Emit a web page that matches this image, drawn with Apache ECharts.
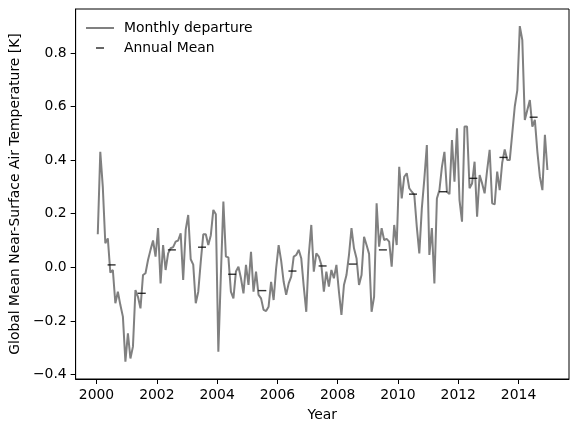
<!DOCTYPE html>
<html><head><meta charset="utf-8">
<script src="https://cdn.jsdelivr.net/npm/echarts@6/dist/echarts.min.js"></script>
<style>html,body{margin:0;padding:0;background:#fff}#c{width:579px;height:432px}</style>
</head><body><div id="c"></div>
<script>
const startYear = 2000;
// Monthly departures [K], one array per year
const m2000 = [0.123, 0.431, 0.30, 0.09, 0.108, -0.02, -0.01, -0.134, -0.091, -0.141, -0.184, -0.352];
const m2001 = [-0.246, -0.34, -0.296, -0.085, -0.11, -0.153, -0.029, -0.022, 0.027, 0.065, 0.10, 0.04];
const m2002 = [0.146, -0.06, 0.083, -0.01, 0.052, 0.071, 0.075, 0.096, 0.10, 0.127, -0.047, 0.14];
const m2003 = [0.195, 0.03, 0.01, -0.134, -0.091, 0.021, 0.123, 0.123, 0.083, 0.12, 0.214, 0.198];
const m2004 = [-0.315, -0.03, 0.245, 0.04, 0.037, -0.091, -0.116, -0.016, 0.002, -0.041, -0.097, 0.009];
const m2005 = [-0.066, 0.058, -0.091, -0.016, -0.103, -0.116, -0.159, -0.163, -0.147, -0.054, -0.122, -0.004];
const m2006 = [0.083, 0.025, -0.054, -0.103, -0.06, -0.035, 0.04, 0.046, 0.065, 0.034, -0.072, -0.166];
const m2007 = [0.046, 0.158, -0.016, 0.052, 0.04, 0.009, -0.091, -0.016, -0.072, -0.01, -0.041, 0.009];
const m2008 = [-0.091, -0.178, -0.066, -0.029, 0.046, 0.146, 0.071, 0.034, -0.066, -0.029, 0.114, 0.083];
const m2009 = [0.05, -0.166, -0.11, 0.239, 0.077, 0.146, 0.102, 0.106, 0.096, 0.002, 0.158, 0.083];
const m2010 = [0.375, 0.257, 0.338, 0.351, 0.295, 0.282, 0.27, 0.151, 0.052, 0.22, 0.33, 0.456];
const m2011 = [0.046, 0.146, -0.06, 0.257, 0.288, 0.375, 0.431, 0.282, 0.273, 0.475, 0.319, 0.519];
const m2012 = [0.251, 0.17, 0.525, 0.525, 0.295, 0.313, 0.394, 0.189, 0.344, 0.313, 0.276, 0.363];
const m2013 = [0.438, 0.239, 0.235, 0.357, 0.288, 0.39, 0.44, 0.40, 0.40, 0.50, 0.60, 0.66];
const m2014 = [0.9, 0.848, 0.55, 0.587, 0.624, 0.525, 0.55, 0.431, 0.338, 0.288, 0.494, 0.363];

const annualYears = [2000, 2001, 2002, 2003, 2004, 2005, 2006, 2007, 2008, 2009, 2010, 2011, 2012, 2013, 2014];
const annualMean = [0.009, -0.097, 0.065, 0.075, -0.026, -0.087, -0.014, 0.005, 0.012, 0.065, 0.273, 0.282, 0.332, 0.41, 0.56];

const xTickValues = [2000, 2002, 2004, 2006, 2008, 2010, 2012, 2014];
const yTickValues = [-0.4, -0.2, 0.0, 0.2, 0.4, 0.6, 0.8];
const seriesNames = ['Monthly departure', 'Annual Mean'];
const axisNames = ['Year', 'Global Mean Near-Surface Air Temperature [K]'];

const monthly = [].concat(m2000, m2001, m2002, m2003, m2004, m2005, m2006, m2007,
  m2008, m2009, m2010, m2011, m2012, m2013, m2014);
const monthlyPoints = monthly.map((v, i) => [startYear + (i + 0.5) / 12, v]);
const annualPoints = annualYears.map((y, i) => [y + 0.5, annualMean[i]]);

const FONT = 'DejaVu Sans';
const FS = 13.9;
const fmtY = v => (v < 0 ? '\u2212' : '') + Math.abs(v).toFixed(1);

const chart = echarts.init(document.getElementById('c'), null, {renderer: 'canvas'});
chart.setOption({
  animation: false,
  backgroundColor: '#fff',
  textStyle: {fontFamily: FONT},
  grid: {left: 73.3, right: 10, top: 9, bottom: 53, show: true, borderColor: '#000', borderWidth: 1, containLabel: false},
  legend: {
    orient: 'vertical', left: 86, top: 21, padding: 0,
    itemWidth: 28, itemHeight: 14, itemGap: 6,
    textStyle: {fontFamily: FONT, fontSize: FS, color: '#000', padding: [0, 0, 0, 5]},
    data: [
      {name: seriesNames[0], icon: 'path://M0,0L0.01,0ZM0,6H28V8H0ZM28,14L27.99,14Z', itemStyle: {color: '#808080'}},
      {name: seriesNames[1], icon: 'path://M0,0L0.01,0ZM10,6.3H18V7.7H10ZM28,14L27.99,14Z', itemStyle: {color: '#000'}}
    ]
  },
  xAxis: {
    type: 'value', min: 1999.307, max: 2015.674,
    name: axisNames[0], nameLocation: 'middle', nameGap: 29,
    nameTextStyle: {fontFamily: FONT, fontSize: FS, color: '#000'},
    axisLine: {show: true, onZero: false, lineStyle: {color: '#000', width: 1}},
    axisTick: {show: true, inside: false, length: 5, customValues: xTickValues, lineStyle: {color: '#000', width: 1}},
    axisLabel: {customValues: xTickValues, margin: 9, fontFamily: FONT, fontSize: FS, color: '#000', formatter: v => String(v)},
    splitLine: {show: false}
  },
  yAxis: {
    type: 'value', min: -0.4168, max: 0.9638,
    name: axisNames[1], nameLocation: 'middle', nameGap: 47,
    nameTextStyle: {fontFamily: FONT, fontSize: FS, color: '#000'},
    axisLine: {show: true, onZero: false, lineStyle: {color: '#000', width: 1}},
    axisTick: {show: true, inside: false, length: 5, customValues: yTickValues, lineStyle: {color: '#000', width: 1}},
    axisLabel: {customValues: yTickValues, margin: 9, fontFamily: FONT, fontSize: FS, color: '#000', formatter: fmtY},
    splitLine: {show: false}
  },
  series: [
    {
      name: seriesNames[0], type: 'line', data: monthlyPoints,
      symbol: 'none', showSymbol: false, smooth: false,
      lineStyle: {color: '#808080', width: 2},
      itemStyle: {color: '#808080'}, z: 2
    },
    {
      name: seriesNames[1], type: 'scatter', data: annualPoints,
      symbol: 'rect', symbolSize: [8, 1.4],
      itemStyle: {color: '#000'}, z: 3
    }
  ]
});
</script></body></html>
